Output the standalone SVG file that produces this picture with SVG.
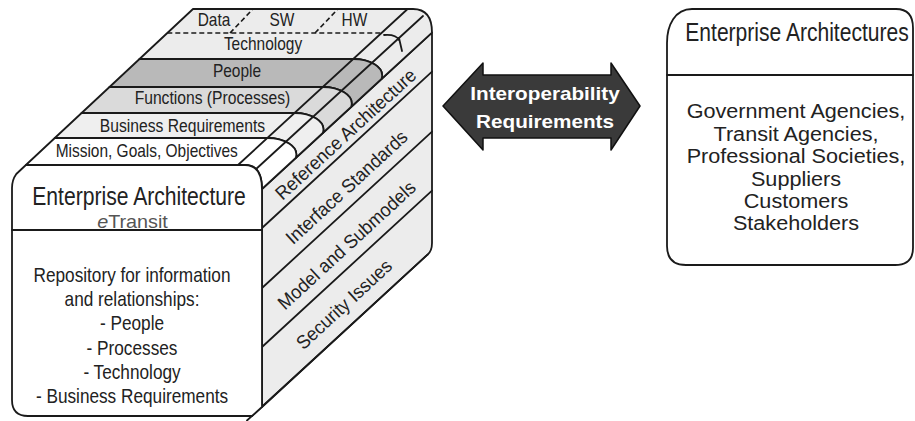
<svg xmlns="http://www.w3.org/2000/svg" width="915" height="421" viewBox="0 0 915 421">
  <style>
    .ln{fill:none;stroke:#1a1a1a;stroke-width:1.8;stroke-linejoin:round;stroke-linecap:round}
    .sh{stroke:#1a1a1a;stroke-width:1.8;stroke-linejoin:round}
    .dash{fill:none;stroke:#1a1a1a;stroke-width:1.6;stroke-dasharray:5 3}
    .t{font-family:"Liberation Sans",Arial,Helvetica,sans-serif;fill:#222;text-anchor:middle}
    .wt{font-family:"Liberation Sans",Arial,Helvetica,sans-serif;fill:#fff;text-anchor:middle;font-weight:bold}
  </style>

  <!-- Left: stacked enterprise architecture cube -->
  <g id="ea-cube">
    <!-- right face with its four bands -->
    <g id="side-face">
      <path class="sh" fill="#ececec" d="M262,189 L432,32.6 V243 Q432,251 427.5,254.7 L262,407 Z"/>
      <path class="ln" d="M262,228 L432,71.6 M262,288 L432,131.6 M262,347 L432,190.6 M427.5,254.7 L247,420.5"/>
      <text class="t" font-size="19" transform="translate(350,139) rotate(-42.6) scale(0.95,1)">Reference Architecture</text>
      <text class="t" font-size="19" transform="translate(351,192) rotate(-42.6) scale(0.95,1)">Interface Standards</text>
      <text class="t" font-size="19" transform="translate(351,250) rotate(-42.6) scale(0.95,1)">Model and Submodels</text>
      <text class="t" font-size="19" transform="translate(348.5,309) rotate(-42.6) scale(0.95,1)">Security Issues</text>
    </g>

    <!-- top face layers, back to front -->
    <g id="layer-technology">
      <path class="sh" fill="#ececec" d="M193,9 H413 Q432,9 432,32.6 L381.5,79 C385.5,67 369.3,59 353.3,59 H139.5 Z"/>
      <path class="dash" d="M167.3,33 H381.5 M230,33 L253,9 M315,33 L338,9"/>
      <path class="ln" d="M384,35 Q396,34 399,40 M399,38 L402,51"/>
      <text class="t" font-size="18" transform="translate(214,26) scale(0.86,1)">Data</text>
      <text class="t" font-size="18" transform="translate(282,26) scale(0.86,1)">SW</text>
      <text class="t" font-size="18" transform="translate(354.5,26) scale(0.86,1)">HW</text>
      <text class="t" font-size="18" transform="translate(263,50) scale(0.86,1)">Technology</text>
    </g>
    <g id="layer-people">
      <path class="sh" fill="#b9b9b9" d="M139.5,59 H353.3 C369.3,59 385.5,67 381.5,79 L351.1,107 C355.1,95 338.8,87 322.8,87 H109.5 Z"/>
      <text class="t" font-size="18" transform="translate(237,77) scale(0.86,1)">People</text>
    </g>
    <g id="layer-functions">
      <path class="sh" fill="#dadada" d="M109.5,87 H322.8 C338.8,87 355.1,95 351.1,107 L322.8,133 C326.8,121 310.6,113 294.6,113 H81.6 Z"/>
      <text class="t" font-size="18" transform="translate(212.5,104) scale(0.87,1)">Functions (Processes)</text>
    </g>
    <g id="layer-business">
      <path class="sh" fill="#efefef" d="M81.6,113 H294.6 C310.6,113 326.8,121 322.8,133 L295.7,158 C299.7,146 283.4,138 267.4,138 H54.8 Z"/>
      <text class="t" font-size="18" transform="translate(182.5,131.5) scale(0.87,1)">Business Requirements</text>
    </g>
    <g id="layer-mission">
      <path class="sh" fill="#ffffff" d="M54.8,138 H267.4 C283.4,138 299.7,146 295.7,158 L262,189 Q262,165 245,165 H25.9 Z"/>
      <text class="t" font-size="18" transform="translate(146.7,156.7) scale(0.86,1)">Mission, Goals, Objectives</text>
    </g>
    <!-- sheet edges along the top-right rim -->
    <path class="ln" d="M407.6,9 L238,165 M423,16 L255,170"/>

    <!-- front face -->
    <g id="front-face">
      <path class="sh" fill="#ffffff" d="M25.9,165 H245 Q262,165 262,190 V407 L252,416 H28 Q12,416 12,400 V188 Q12,180 16.3,174 Z"/>
      <path class="ln" d="M12,230 H262"/>
      <text class="t" font-size="25" transform="translate(139,205) scale(0.845,1)">Enterprise Architecture</text>
      <text class="t" font-size="18" fill="#555" transform="translate(132.5,227.5) scale(1.1,1)"><tspan font-style="italic" fill="#555">e</tspan><tspan fill="#555">Transit</tspan></text>
      <g font-size="21">
        <text class="t" transform="translate(132,282) scale(0.82,1)">Repository for information</text>
        <text class="t" transform="translate(132,306.2) scale(0.82,1)">and relationships:</text>
        <text class="t" transform="translate(132,330.4) scale(0.82,1)">- People</text>
        <text class="t" transform="translate(132,354.6) scale(0.82,1)">- Processes</text>
        <text class="t" transform="translate(132,378.8) scale(0.82,1)">- Technology</text>
        <text class="t" transform="translate(132,403) scale(0.82,1)">- Business Requirements</text>
      </g>
    </g>
  </g>

  <!-- Right: partner enterprise architectures -->
  <g id="ea-partners">
    <path class="sh" fill="#ffffff" d="M692,9 H896 Q913,9 913,28 V248 Q913,265 895,265 H686 Q667,265 667,246 V43 C667,25 675,9 692,9 Z"/>
    <path class="ln" d="M667,75 H913"/>
    <text class="t" font-size="26" transform="translate(797,41) scale(0.81,1)">Enterprise Architectures</text>
    <g font-size="21">
      <text class="t" transform="translate(796,118) scale(1.03,1)">Government Agencies,</text>
      <text class="t" transform="translate(796,140.5) scale(1.03,1)">Transit Agencies,</text>
      <text class="t" transform="translate(796,163) scale(1.03,1)">Professional Societies,</text>
      <text class="t" transform="translate(796,185.5) scale(1.03,1)">Suppliers</text>
      <text class="t" transform="translate(796,208) scale(1.03,1)">Customers</text>
      <text class="t" transform="translate(796,230) scale(1.03,1)">Stakeholders</text>
    </g>
  </g>

  <!-- Connector: two-way interoperability arrow -->
  <g id="connectors">
    <polygon points="443,106 483,63 483,75 611,75 611,63 640,106 611,150 611,138 483,138 483,150" fill="#3a3a3a" stroke="#111" stroke-width="1.5" stroke-linejoin="round"/>
    <text class="wt" font-size="18" transform="translate(545,99.5) scale(1.15,1)">Interoperability</text>
    <text class="wt" font-size="18" transform="translate(545,128) scale(1.15,1)">Requirements</text>
  </g>
</svg>
